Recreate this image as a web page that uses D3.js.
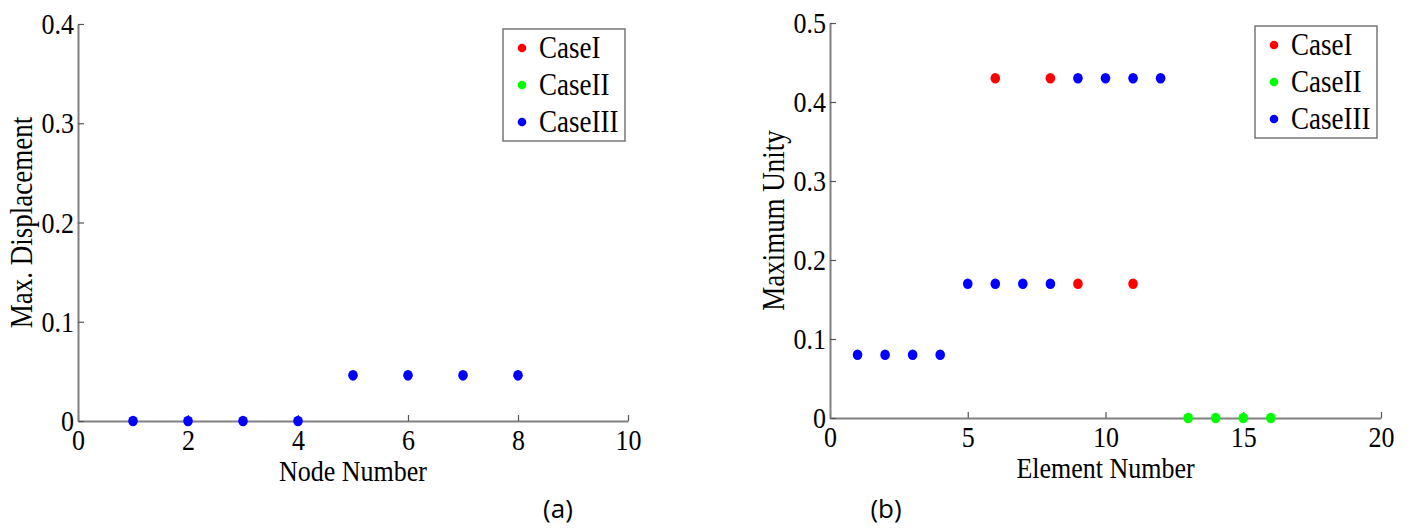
<!DOCTYPE html>
<html>
<head>
<meta charset="utf-8">
<script src="https://cdn.jsdelivr.net/npm/d3@7"></script>
<style>
  body { margin: 0; background: #fff; }
  svg text { font-family: "Liberation Serif", "Times New Roman", serif; fill: #000; }
  svg text.tall { transform-box: fill-box; transform-origin: center; transform: scale(1, 1.15); }
</style>
</head>
<body>
<svg id="fig" width="1412" height="529"></svg>
<script>
// panel (a) data
const nodeNumbers = [1, 2, 3, 4, 5, 6, 7, 8];
const dispCaseIII = [0, 0, 0, 0, 0.046, 0.046, 0.046, 0.046];
const xTicksA = [0, 2, 4, 6, 8, 10];
const yTicksA = [0, 0.1, 0.2, 0.3, 0.4];

// panel (b) data
const elemCaseI = [6, 8, 9, 11];
const unityCaseI = [0.43, 0.43, 0.17, 0.17];
const elemCaseII = [13, 14, 15, 16];
const unityCaseII = [0, 0, 0, 0];
const elemCaseIII = [1, 2, 3, 4, 5, 6, 7, 8, 9, 10, 11, 12];
const unityCaseIII = [0.08, 0.08, 0.08, 0.08, 0.17, 0.17, 0.17, 0.17, 0.43, 0.43, 0.43, 0.43];
const xTicksB = [0, 5, 10, 15, 20];
const yTicksB = [0, 0.1, 0.2, 0.3, 0.4, 0.5];

const caseNames = ["CaseI", "CaseII", "CaseIII"];
const caseColors = ["#ff0000", "#00ff00", "#0000ff"];

const svg = d3.select("#fig");
const axisColor = "#808080";

function drawPanel(opt) {
  const g = svg.append("g");
  const x = d3.scaleLinear().domain(opt.xDomain).range([opt.left, opt.right]);
  const y = d3.scaleLinear().domain(opt.yDomain).range([opt.bottom, opt.top]);

  // axes, ticks point inward like matlab
  const xAxis = g.append("g")
    .attr("transform", `translate(0,${opt.bottom})`)
    .call(d3.axisBottom(x).tickValues(opt.xTicks).tickSizeInner(-6).tickSizeOuter(0).tickPadding(7)
      .tickFormat(d3.format("~g")));
  const yAxis = g.append("g")
    .attr("transform", `translate(${opt.left},0)`)
    .call(d3.axisLeft(y).tickValues(opt.yTicks).tickSizeInner(-6).tickSizeOuter(0).tickPadding(11)
      .tickFormat(d3.format("~g")));

  [xAxis, yAxis].forEach(a => {
    a.select(".domain").attr("stroke", axisColor).attr("stroke-width", 2);
    a.selectAll(".tick line").attr("stroke", "#555").attr("stroke-width", 1.2);
    a.selectAll(".tick text")
      .attr("class", "tall")
      .style("font-size", "26px")
      .style("font-family", "Liberation Serif")
      .attr("fill", "#000");
  });
  xAxis.selectAll(".tick text").attr("dy", "0.8em");
  yAxis.selectAll(".tick text").attr("dx", "7px");

  // axis titles
  g.append("text")
    .attr("class", "tall")
    .attr("x", (opt.left + opt.right) / 2)
    .attr("y", opt.bottom + 59)
    .attr("text-anchor", "middle")
    .style("font-size", "26px")
    .text(opt.xLabel);
  g.append("g")
    .attr("transform", `translate(${opt.yLabelX},${(opt.top + opt.bottom) / 2}) rotate(-90)`)
    .append("text")
    .attr("class", "tall")
    .attr("text-anchor", "middle")
    .style("font-size", "27px")
    .text(opt.yLabel);

  // points
  opt.series.forEach(s => {
    g.selectAll(null)
      .data(s.xs.map((v, i) => [v, s.ys[i]]))
      .enter()
      .append("ellipse")
      .attr("cx", d => x(d[0]))
      .attr("cy", d => y(d[1]))
      .attr("rx", 4.8)
      .attr("ry", 5.3)
      .attr("fill", s.color);
  });

  // legend
  const lg = g.append("g").attr("transform", `translate(${opt.legX},${opt.legY})`);
  lg.append("rect")
    .attr("width", 122).attr("height", 112)
    .attr("fill", "#fff").attr("stroke", "#777").attr("stroke-width", 1.5);
  caseNames.forEach((name, i) => {
    lg.append("circle")
      .attr("cx", 19).attr("cy", 19 + i * 37).attr("r", 4.3)
      .attr("fill", caseColors[i]);
    lg.append("text")
      .attr("class", "tall")
      .attr("x", 36).attr("y", 28 + i * 37)
      .style("font-size", "27px")
      .text(name);
  });

  // sub caption
  svg.append("text")
    .attr("x", opt.capX).attr("y", 518)
    .attr("text-anchor", "middle")
    .style("font-family", "'Open Sans', 'Noto Sans', sans-serif")
    .style("font-size", "26px")
    .text(opt.caption);
}

drawPanel({
  left: 78, right: 628, top: 24, bottom: 421,
  xDomain: [0, 10], yDomain: [0, 0.4],
  xTicks: xTicksA, yTicks: yTicksA,
  xLabel: "Node Number", yLabel: "Max. Displacement", yLabelX: 31,
  series: [{ xs: nodeNumbers, ys: dispCaseIII, color: caseColors[2] }],
  legX: 503, legY: 29, capX: 558, caption: "(a)"
});

drawPanel({
  left: 830, right: 1381, top: 23, bottom: 418,
  xDomain: [0, 20], yDomain: [0, 0.5],
  xTicks: xTicksB, yTicks: yTicksB,
  xLabel: "Element Number", yLabel: "Maximum Unity", yLabelX: 783,
  series: [
    { xs: elemCaseI, ys: unityCaseI, color: caseColors[0] },
    { xs: elemCaseII, ys: unityCaseII, color: caseColors[1] },
    { xs: elemCaseIII, ys: unityCaseIII, color: caseColors[2] }
  ],
  legX: 1255, legY: 26, capX: 886, caption: "(b)"
});
</script>
</body>
</html>
